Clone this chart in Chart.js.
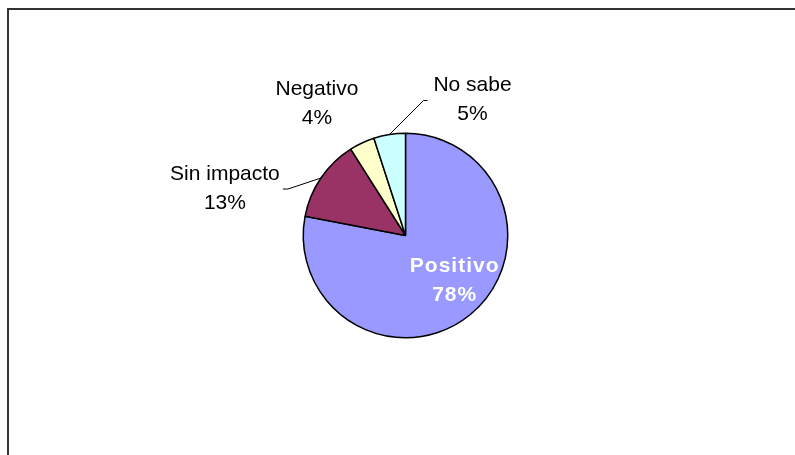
<!DOCTYPE html>
<html>
<head>
<meta charset="utf-8">
<script src="https://cdn.jsdelivr.net/npm/chart.js@4"></script>
<style>
  body { margin: 0; background: #fff; }
  #wrap { position: relative; width: 795px; height: 455px; overflow: hidden; }
  #frame { position: absolute; left: 7px; top: 8px; width: 787px; height: 460px;
           border-top: 2px solid #333; border-left: 2px solid #333; }
  #myChart { position: absolute; left: 0; top: 0; }
</style>
</head>
<body>
<div id="wrap">
  <div id="frame"></div>
  <canvas id="myChart" width="795" height="455"></canvas>
</div>
<script>
// data
let categories = ["Positivo", "Sin impacto", "Negativo", "No sabe"];
let values = [78, 13, 4, 5];
let percentLabels = ["78%", "13%", "4%", "5%"];

let colors = ["#9999FF", "#993366", "#FFFFCC", "#CCFFFF"];

// where each label sits, relative to the outer point at the slice's middle angle
let placement = [
    { dx: -16, dy: -34, inside: true },
    { dx: -96, dy: 10, leader: [[-33, 11], [-38, 11]] },
    { dx: -45, dy: -40 },
    { dx: 83, dy: -35, leader: [[34, -34], [38, -34]] }
];

const pieLabels = {
    id: "pieLabels",
    afterDatasetsDraw(chart) {
        const c = chart.ctx;
        const arcs = chart.getDatasetMeta(0).data;
        arcs.forEach((arc, i) => {
            const mid = (arc.startAngle + arc.endAngle) / 2;
            const ax = arc.x + Math.cos(mid) * arc.outerRadius;
            const ay = arc.y + Math.sin(mid) * arc.outerRadius;
            const p = placement[i];
            c.save();
            if (p.leader) {
                c.beginPath();
                c.moveTo(ax, ay);
                p.leader.forEach(pt => c.lineTo(ax + pt[0], ay + pt[1]));
                c.strokeStyle = "#000";
                c.lineWidth = 1;
                c.stroke();
            }
            c.textAlign = "center";
            c.textBaseline = "middle";
            if (p.inside) {
                c.fillStyle = "#fff";
                c.font = "bold 21px 'Liberation Sans', Arial, sans-serif";
                c.letterSpacing = "1px";
            } else {
                c.fillStyle = "#000";
                c.font = "21px 'Liberation Sans', Arial, sans-serif";
            }
            const lx = ax + p.dx, ly = ay + p.dy;
            c.fillText(categories[i], lx, ly - 14);
            c.fillText(percentLabels[i], lx, ly + 15);
            c.restore();
        });
    }
};

let ctx = document.getElementById("myChart").getContext("2d");
let myChart = new Chart(ctx, {
    type: "pie",
    data: {
        labels: categories,
        datasets: [{
            data: values,
            backgroundColor: colors,
            borderColor: "#000",
            borderWidth: 1.5
        }]
    },
    options: {
        responsive: false,
        animation: false,
        layout: { padding: { left: 302.5, right: 286.5, top: 132.5, bottom: 116.5 } },
        plugins: {
            legend: { display: false },
            tooltip: { enabled: false }
        }
    },
    plugins: [pieLabels]
});
</script>
</body>
</html>
